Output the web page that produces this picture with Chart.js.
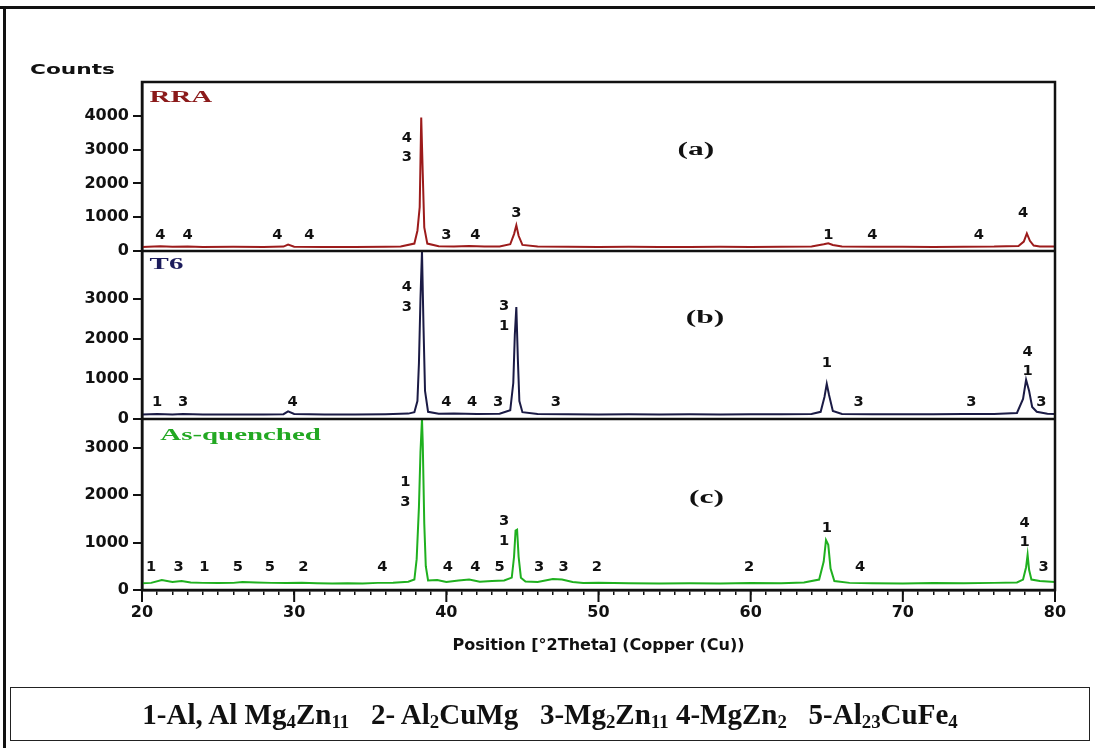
<!DOCTYPE html>
<html>
<head>
<meta charset="utf-8">
<script src="https://cdn.jsdelivr.net/npm/chart.js@4/dist/chart.umd.min.js"></script>
<style>
  body { margin: 0; background: #fff; }
  #page { position: relative; width: 1095px; height: 748px; overflow: hidden; background: #fff; }
  .rule { position: absolute; background: #111; }
  #plot { position: absolute; left: 0; top: 0; width: 1095px; height: 748px; }
  #key {
    position: absolute; left: 10px; top: 687px; width: 1080px; height: 54px;
    border: 1.5px solid #222; box-sizing: border-box;
    font-family: "Liberation Serif", "Times New Roman", serif; font-weight: bold; font-size: 29px;
    color: #111; text-align: center; line-height: 52px; white-space: pre;
  }
  #key sub { font-size: 65%; vertical-align: -0.22em; line-height: 0; }
</style>
</head>
<body>
<div id="page">
  <div class="rule" style="left:0;top:6px;width:1095px;height:3px"></div>
  <div class="rule" style="left:3px;top:6px;width:3px;height:742px"></div>
  <div id="plot"><canvas id="xrd"></canvas></div>
  <div id="key">1-Al, Al Mg<sub>4</sub>Zn<sub>11</sub>   2- Al<sub>2</sub>CuMg   3-Mg<sub>2</sub>Zn<sub>11</sub> 4-MgZn<sub>2</sub>   5-Al<sub>23</sub>CuFe<sub>4</sub></div>
</div>
<script>
// 2theta / counts
const rraPattern = [
  [20,120],[21.2,140],[22,125],[23,135],[24,120],[26,125],[28,120],[29.3,130],[29.6,190],[30,125],
  [32,115],[34,120],[36,125],[37,135],[37.9,220],[38.1,600],[38.25,1300],[38.35,3950],[38.45,2300],
  [38.55,700],[38.75,220],[39.5,140],[40.5,130],[41.5,145],[42.5,130],[43.5,135],[44.2,200],[44.45,500],
  [44.6,760],[44.75,450],[45.0,180],[46,130],[48,125],[50,120],[52,125],[54,120],[56,120],[58,125],
  [60,120],[62,125],[64,130],[64.8,200],[65.1,230],[65.4,180],[66,130],[68,125],[70,125],[72,120],
  [74,125],[76,130],[77.6,150],[77.95,280],[78.15,520],[78.35,300],[78.6,160],[79,130],[80,130]
];
const t6Pattern = [
  [20,110],[21,125],[22,115],[22.7,125],[24,110],[26,110],[28,115],[29.3,120],[29.6,190],[30,125],
  [32,115],[34,115],[36,120],[37.5,135],[37.9,170],[38.1,450],[38.2,1400],[38.3,3000],[38.4,4200],
  [38.5,2300],[38.6,700],[38.8,180],[39.5,130],[40.5,135],[42,125],[43.5,130],[44.2,220],[44.4,900],
  [44.5,2100],[44.6,2800],[44.7,1500],[44.8,450],[45.0,170],[46,125],[48,120],[50,115],[52,120],
  [54,115],[56,120],[58,115],[60,120],[62,120],[64,125],[64.6,180],[64.85,550],[65.0,880],[65.15,600],
  [65.4,200],[66,125],[68,120],[70,120],[72,120],[74,125],[76,125],[77.5,150],[77.9,500],[78.1,980],
  [78.3,700],[78.5,300],[78.8,180],[79.5,130],[80,125]
];
const quenchedPattern = [
  [20,140],[20.6,150],[21.3,210],[22,170],[22.6,190],[23.2,160],[24,150],[25,145],[26,150],[26.6,170],
  [27.5,160],[28.5,150],[29.5,145],[30.5,150],[31.5,140],[32.5,135],[33.5,140],[34.5,135],[35.5,150],
  [36.5,155],[37.5,175],[37.9,220],[38.05,650],[38.2,1750],[38.3,2900],[38.4,3600],[38.45,3100],
  [38.55,1400],[38.65,500],[38.8,200],[39.4,210],[40.0,170],[40.8,200],[41.5,220],[42.2,175],[43.0,190],
  [43.8,200],[44.3,260],[44.45,700],[44.55,1250],[44.65,1270],[44.75,700],[44.9,260],[45.2,180],
  [46,170],[47,230],[47.6,220],[48.3,170],[49,150],[50,155],[52,140],[54,135],[56,140],[58,135],
  [60,145],[62,140],[63.5,160],[64.5,220],[64.8,600],[64.95,1050],[65.1,950],[65.25,450],[65.5,190],
  [66.5,150],[68,140],[70,135],[72,145],[74,140],[76,150],[77.5,160],[77.9,220],[78.1,480],[78.2,740],
  [78.3,420],[78.45,220],[79,190],[80,170]
];

// tick labels shown on each panel
const thetaMajor = [20, 30, 40, 50, 60, 70, 80];
const rraTicks = [0, 1000, 2000, 3000, 4000];
const t6Ticks = [0, 1000, 2000, 3000];
const quenchedTicks = [0, 1000, 2000, 3000];

// phase markers: [2theta, counts, text]
const rraMarks = [
  [21.2,475,'4'],[23.0,475,'4'],[28.9,475,'4'],[31.0,475,'4'],[37.4,3340,'4'],[37.4,2780,'3'],
  [40.0,475,'3'],[41.9,475,'4'],[44.6,1125,'3'],[65.1,475,'1'],[68.0,475,'4'],[75.0,475,'4'],[77.9,1125,'4']
];
const t6Marks = [
  [21.0,425,'1'],[22.7,425,'3'],[29.9,425,'4'],[37.4,3300,'4'],[37.4,2800,'3'],[40.0,425,'4'],
  [41.7,425,'4'],[43.4,425,'3'],[43.8,2825,'3'],[43.8,2325,'1'],[47.2,425,'3'],[65.0,1400,'1'],
  [67.1,425,'3'],[74.5,425,'3'],[78.2,1675,'4'],[78.2,1200,'1'],[79.1,425,'3']
];
const quenchedMarks = [
  [20.6,480,'1'],[22.4,480,'3'],[24.1,480,'1'],[26.3,480,'5'],[28.4,480,'5'],[30.6,480,'2'],
  [35.8,480,'4'],[37.3,2270,'1'],[37.3,1850,'3'],[40.1,480,'4'],[41.9,480,'4'],[43.5,480,'5'],
  [43.8,1450,'3'],[43.8,1030,'1'],[46.1,480,'3'],[47.7,480,'3'],[49.9,480,'2'],[59.9,480,'2'],
  [65.0,1300,'1'],[67.2,480,'4'],[78.0,1410,'4'],[78.0,1010,'1'],[79.25,480,'3']
];

// panel names and letters: [2theta, counts]
const panelNames = ['RRA', 'T6', 'As-quenched'];
const panelNamePos = [[20.5,4530],[20.5,3850],[21.2,3240]];
const panelLetters = ['(a)', '(b)', '(c)'];
const panelLetterPos = [[56.4,2990],[57.0,2525],[57.1,1940]];

const lineColors = ['#9c1b1b', '#1b1b45', '#1fb01f'];
const nameColors = ['#8b1a1a', '#1c1c5c', '#22a822'];
const panelAxes = ['ya', 'yb', 'yc'];

const tickFont = { family: 'DejaVu Sans', weight: 'bold', size: 16 };

function stretchText(ctx, text, px, py, font, color, sx, align) {
  ctx.save();
  ctx.translate(px, py);
  ctx.scale(sx, 1);
  ctx.font = font;
  ctx.fillStyle = color;
  ctx.textAlign = align;
  ctx.textBaseline = 'middle';
  ctx.fillText(text, 0, 0);
  ctx.restore();
}

const xrdDecor = {
  id: 'xrdDecor',
  afterDatasetsDraw(chart) {
    const { ctx, chartArea: area, scales } = chart;
    const x = scales.x;
    ctx.save();

    // frame + separators between panels
    ctx.strokeStyle = '#111';
    ctx.lineWidth = 2.5;
    ctx.strokeRect(area.left, area.top, area.right - area.left, area.bottom - area.top);
    ['ya', 'yb'].forEach(id => {
      const yb = scales[id].bottom;
      ctx.beginPath();
      ctx.moveTo(area.left, yb);
      ctx.lineTo(area.right, yb);
      ctx.stroke();
    });

    // longer major ticks on the 2theta axis
    ctx.lineWidth = 2;
    thetaMajor.forEach(v => {
      const px = x.getPixelForValue(v);
      ctx.beginPath();
      ctx.moveTo(px, area.bottom);
      ctx.lineTo(px, area.bottom + 12);
      ctx.stroke();
    });

    // phase numbers
    [rraMarks, t6Marks, quenchedMarks].forEach((marks, i) => {
      const y = scales[panelAxes[i]];
      marks.forEach(m => {
        stretchText(ctx, m[2], x.getPixelForValue(m[0]), y.getPixelForValue(m[1]),
          'bold 14px "DejaVu Sans"', '#111', 1.05, 'center');
      });
      const np = panelNamePos[i];
      stretchText(ctx, panelNames[i], x.getPixelForValue(np[0]), y.getPixelForValue(np[1]),
        'bold 17px "Liberation Serif"', nameColors[i], 1.7, 'left');
      const lp = panelLetterPos[i];
      stretchText(ctx, panelLetters[i], x.getPixelForValue(lp[0]), y.getPixelForValue(lp[1]),
        'bold 18px "Liberation Serif"', '#111', 1.75, 'center');
    });

    // y axis name
    stretchText(ctx, 'Counts', area.left - 112, area.top - 12, 'bold 14px "DejaVu Sans"', '#111', 1.55, 'left');
    ctx.restore();
  }
};

function yPanel(max, ticks, weight) {
  return {
    type: 'linear',
    position: 'left',
    stack: 'xrd',
    stackWeight: weight,
    min: 0,
    max: max,
    border: { color: '#111', width: 2.5 },
    grid: { drawOnChartArea: false, color: '#111', lineWidth: 2, tickLength: 9 },
    ticks: { color: '#111', font: tickFont, padding: 4, callback: v => String(v) },
    afterBuildTicks: s => { s.ticks = ticks.map(v => ({ value: v })); },
    afterFit: s => { s.width = 70; }
  };
}

const ctx = document.getElementById('xrd').getContext('2d');
new Chart(ctx, {
  type: 'line',
  data: {
    datasets: [rraPattern, t6Pattern, quenchedPattern].map((pts, i) => ({
      label: panelNames[i],
      data: pts.map(p => ({ x: p[0], y: p[1] })),
      yAxisID: panelAxes[i],
      borderColor: lineColors[i],
      borderWidth: 2,
      pointRadius: 0,
      tension: 0
    }))
  },
  options: {
    responsive: true,
    maintainAspectRatio: false,
    animation: false,
    layout: { padding: { left: 72, right: 40, top: 82, bottom: 88 } },
    plugins: { legend: { display: false }, tooltip: { enabled: false } },
    scales: {
      x: {
        type: 'linear',
        min: 20,
        max: 80,
        border: { color: '#111', width: 2.5 },
        grid: { drawOnChartArea: false, color: '#111', lineWidth: 1.5, tickLength: 5 },
        ticks: {
          stepSize: 1, autoSkip: false, maxRotation: 0, padding: 8, color: '#111',
          font: { family: 'DejaVu Sans', weight: 'bold', size: 16 },
          callback: v => (v % 10 === 0 ? String(v) : '')
        },
        title: {
          display: true,
          text: 'Position [°2Theta] (Copper (Cu))',
          color: '#111',
          font: { family: 'DejaVu Sans', weight: 'bold', size: 16 },
          padding: { top: 0, bottom: 5 }
        },
        afterFit: s => { s.height = 70; }
      },
      yc: yPanel(3600, quenchedTicks, 171),
      yb: yPanel(4200, t6Ticks, 168),
      ya: yPanel(5000, rraTicks, 169)
    }
  },
  plugins: [xrdDecor]
});
</script>
</body>
</html>
